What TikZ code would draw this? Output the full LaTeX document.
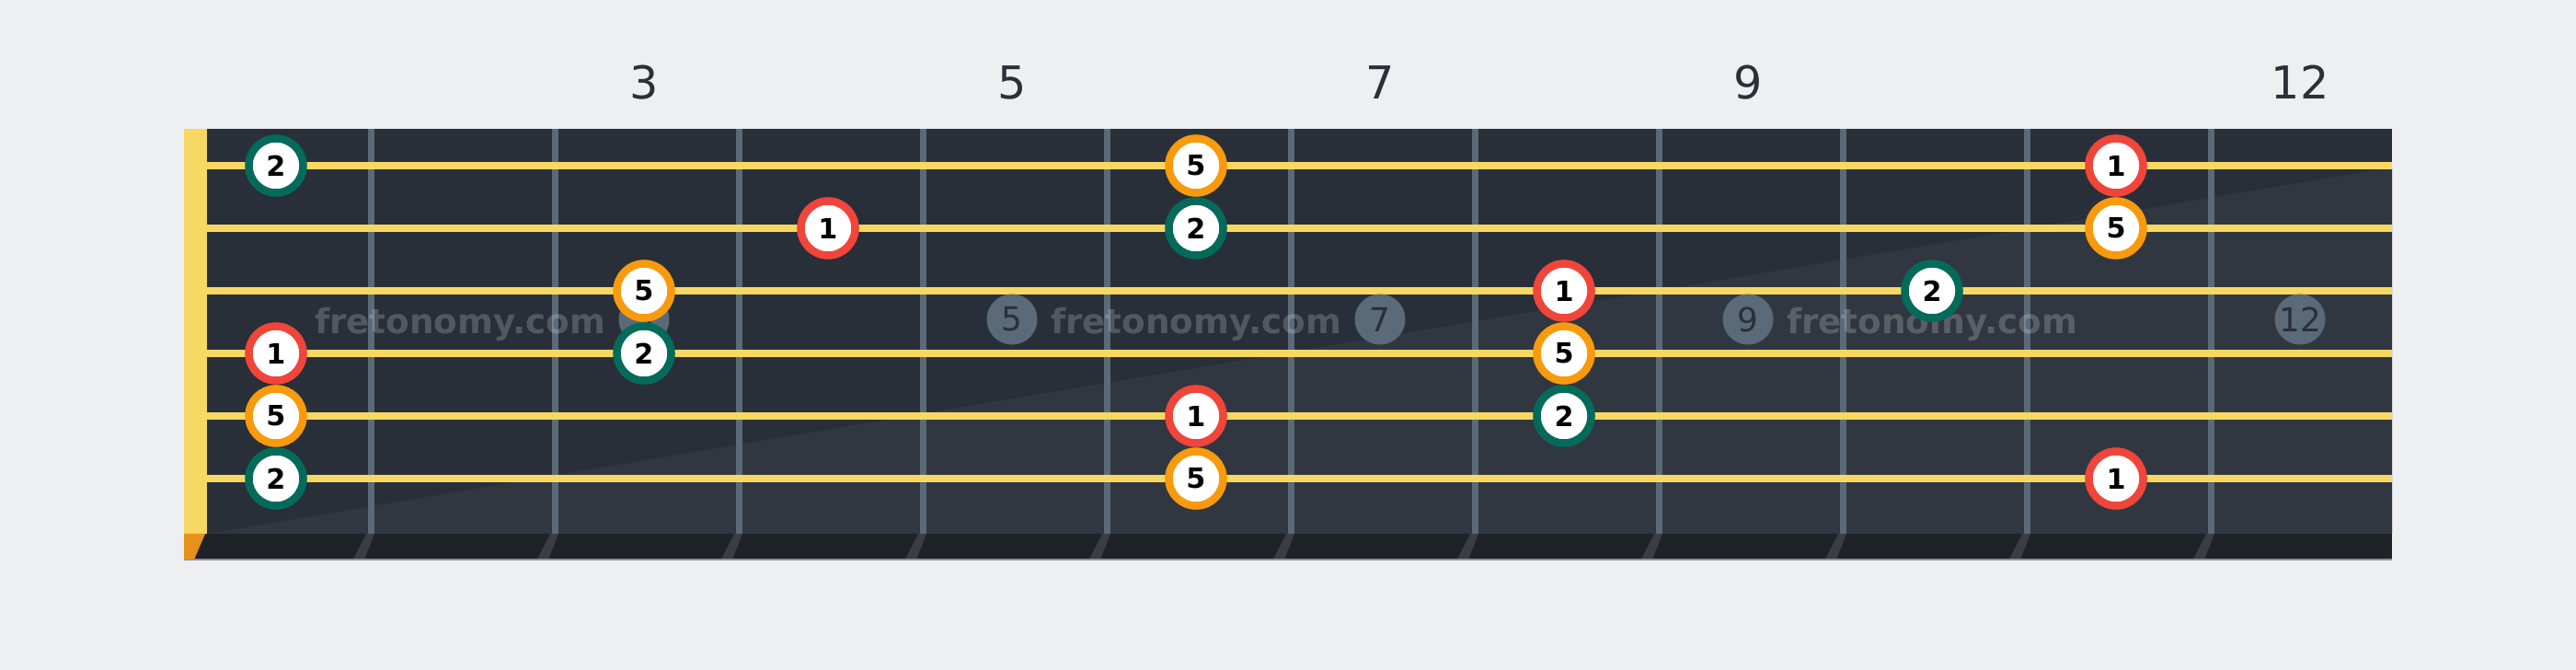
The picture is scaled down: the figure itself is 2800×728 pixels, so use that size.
\documentclass[tikz,border=0pt]{standalone}
\usepackage{fontspec}
\setmainfont{DejaVu Sans}
\usetikzlibrary{calc}
\definecolor{bgcol}{HTML}{EEEFF1}
\definecolor{boardcol}{HTML}{282F38}
\definecolor{boardlite}{HTML}{313740}
\definecolor{stripcol}{HTML}{1F2328}
\definecolor{footcol}{HTML}{3A3E44}
\definecolor{edgecol}{HTML}{8A9199}
\definecolor{stringcol}{HTML}{F7D862}
\definecolor{fretcol}{HTML}{5A6A78}
\definecolor{nutfoot}{HTML}{E8901C}
\definecolor{rootcol}{HTML}{F0453A}
\definecolor{fifthcol}{HTML}{F89A0D}
\definecolor{secondcol}{HTML}{046B5A}
\definecolor{labelcol}{HTML}{2A3038}
\tikzset{
  note/.style={circle,draw=#1,fill=white,line width=0.085cm,minimum size=0.59cm,inner sep=0pt,
    font=\fontsize{8.6}{10}\selectfont\bfseries,text=black},
  deg1/.style={note=rootcol},
  deg2/.style={note=secondcol},
  deg5/.style={note=fifthcol},
  inlay/.style={circle,fill=fretcol,minimum size=0.55cm,inner sep=0pt,
    font=\fontsize{10.2}{12}\selectfont,text=labelcol},
  fretnum/.style={anchor=base,inner sep=0pt,font=\fontsize{14}{16}\selectfont,text=labelcol},
  wmark/.style={anchor=base,inner sep=0pt,font=\fontsize{10.6}{12}\selectfont\bfseries,
    text=white,text opacity=0.2}
}

\begin{document}
\begin{tikzpicture}[x=0.01cm,y=-0.01cm]
\fill[bgcol] (0,0) rectangle (2800,728);

\fill[boardcol] (200,140) rectangle (2600,580);
\fill[boardlite] (225,580) -- (2600,580) -- (2600,182) -- cycle;

\foreach \k in {1,...,11}
  \fill[fretcol] ({400+200*(\k-1)},140) rectangle ({407+200*(\k-1)},580);

\foreach \s in {1,...,6}
  \fill[stringcol] (225,{176+68*(\s-1)}) rectangle (2600,{184+68*(\s-1)});

\foreach \f in {3,5,7,9,12}
  \node[inlay] (dot\f) at ({100+200*\f},347) {\f};

\foreach \x/\i in {500/1,1300/2,2100/3}
  \node[wmark] (wm\i) at (\x,363) {fretonomy.com};

\foreach \s/\f/\deg in {1/1/2,1/6/5,1/11/1,2/4/1,2/6/2,2/11/5,3/3/5,3/8/1,3/10/2,
                         4/1/1,4/3/2,4/8/5,5/1/5,5/6/1,5/8/2,6/1/2,6/6/5,6/11/1}
  \node[deg\deg] (n\s-\f) at ({100+200*\f},{112+68*\s}) {\deg};

\fill[stripcol] (200,580) rectangle (2600,608);
\foreach \k in {1,...,11}
  \fill[footcol] ({398+200*(\k-1)},580) -- ({407+200*(\k-1)},580) --
    ({396+200*(\k-1)},608) -- ({384+200*(\k-1)},608) -- cycle;
\fill[edgecol] (200,607.5) rectangle (2600,609);

\fill[stringcol] (200,140) rectangle (225,580);
\fill[nutfoot] (200,580) -- (223,580) -- (211,608) -- (200,608) -- cycle;

\foreach \f in {3,5,7,9,12}
  \node[fretnum] (top\f) at ({100+200*\f},108) {\f};
\end{tikzpicture}
\end{document}
